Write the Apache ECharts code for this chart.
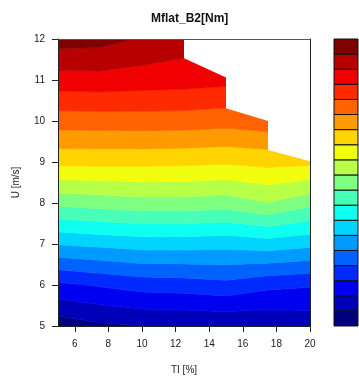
<!DOCTYPE html>
<html>
<head>
<meta charset="utf-8">
<script src="https://cdn.jsdelivr.net/npm/echarts@6/dist/echarts.min.js"></script>
<style>
  html, body { margin: 0; padding: 0; background: #fff; }
  #chart { width: 359px; height: 381px; }
</style>
</head>
<body>
<div id="chart"></div>
<script>
// measurement grid: turbulence intensity columns, wind speed rows (bottom to top)
const tiValues = [5, 7.5, 10, 12.5, 15, 17.5, 20];
const uValues = [5, 6, 7, 8, 9, 10, 11, 12];

// load expressed as contour band position, one row per U, null = no run
const zU5  = [0.43, 0.8, 1.0, 1.05, 1.1, 1.14, 1.35];
const zU6  = [2.79, 3.1, 3.41, 3.49, 3.69, 3.26, 3.1];
const zU7  = [6.06, 6.25, 6.43, 6.43, 6.34, 6.53, 6.27];
const zU8  = [9.27, 9.45, 9.61, 9.62, 9.47, 9.97, 9.31];
const zU9  = [12.28, 12.3, 12.28, 12.24, 12.14, 12.31, 12.26];
const zU10 = [14.48, 14.5, 14.53, 14.51, 14.4, 14.58, null];
const zU11 = [16.56, 16.62, 16.51, 16.43, 16.3, null, null];
const zU12 = [18.45, 18.36, 17.9, 17.5, null, null, null];
const zRows = [zU5, zU6, zU7, zU8, zU9, zU10, zU11, zU12];

const levels = [0, 1, 2, 3, 4, 5, 6, 7, 8, 9, 10, 11, 12, 13, 14, 15, 16, 17, 18, 19];
const xTicks = [6, 8, 10, 12, 14, 16, 18, 20];
const yTicks = [5, 6, 7, 8, 9, 10, 11, 12];

// upper edge of the covered region [TI, U]
const domainTop = [[12.5, 12], [12.5, 11.53], [15, 11.06], [15, 10.31], [17.5, 10.0], [17.5, 9.29], [20, 9.02]];

const bandColors = [
  '#00007F', '#0000B8', '#0000F1', '#002AFF', '#0063FF', '#009BFF', '#00D4FF',
  '#0EFFF1', '#47FFB8', '#7FFF7F', '#B8FF47', '#F1FF0E', '#FFD400', '#FF9B00',
  '#FF6300', '#FF2A00', '#F10000', '#B80000', '#7F0000'
];

// keep the part of a polygon above (or below) a level, interpolating v along edges
function clipBy(poly, t, keepAbove) {
  const out = [];
  for (let i = 0; i < poly.length; i++) {
    const a = poly[i], b = poly[(i + 1) % poly.length];
    const ina = keepAbove ? a.v >= t : a.v <= t;
    const inb = keepAbove ? b.v >= t : b.v <= t;
    if (ina) out.push(a);
    if (ina !== inb) {
      const f = (t - a.v) / (b.v - a.v);
      out.push({ x: a.x + f * (b.x - a.x), y: a.y + f * (b.y - a.y), v: t });
    }
  }
  return out;
}

function renderCell(params, api) {
  const n = tiValues.length;
  const i = params.dataIndex % n, j = Math.floor(params.dataIndex / n);
  if (i === n - 1 || j === uValues.length - 1) return null;
  const idx = [[i, j], [i + 1, j], [i + 1, j + 1], [i, j + 1]];
  const vals = idx.map(([a, b]) => zRows[b][a]);
  const missing = vals.filter(v => v == null).length;
  if (missing > 1) return null;
  if (missing === 1) {
    const m = vals.findIndex(v => v == null);
    vals[m] = vals[(m + 1) % 4] + vals[(m + 3) % 4] - vals[(m + 2) % 4];
  }
  const quad = idx.map(([a, b], k) => {
    const p = api.coord([tiValues[a], uValues[b]]);
    return { x: p[0], y: p[1], v: vals[k] };
  });
  const children = [];
  for (let k = 0; k < bandColors.length; k++) {
    let poly = clipBy(quad, levels[k], true);
    if (poly.length < 3) continue;
    poly = clipBy(poly, levels[k + 1], false);
    if (poly.length < 3) continue;
    children.push({
      type: 'polygon',
      shape: { points: poly.map(p => [p.x, p.y]) },
      style: { fill: bandColors[k], stroke: bandColors[k], lineWidth: 0.6 }
    });
  }
  return { type: 'group', children };
}

function renderMask(params, api) {
  const pts = domainTop.map(p => api.coord(p));
  pts.push(api.coord([tiValues[tiValues.length - 1], uValues[uValues.length - 1]]));
  return { type: 'polygon', shape: { points: pts }, style: { fill: '#fff' } };
}

function renderKey(params, api) {
  const k = params.dataIndex;
  const p0 = api.coord([0, levels[k]]);
  const p1 = api.coord([1, levels[k + 1]]);
  return {
    type: 'rect',
    shape: { x: p0[0], y: p1[1], width: p1[0] - p0[0], height: p0[1] - p1[1] },
    style: { fill: bandColors[k], stroke: '#111', lineWidth: 1 }
  };
}

const chart = echarts.init(document.getElementById('chart'));
const ink = '#222';

chart.setOption({
  animation: false,
  textStyle: { fontFamily: 'Liberation Sans' },
  title: {
    text: 'Mflat_B2[Nm]',
    left: 146,
    top: 8,
    textStyle: { fontSize: 12, fontWeight: 'bold', color: '#111', fontFamily: 'Liberation Sans' }
  },
  grid: [
    { left: 58, top: 39, width: 252, height: 287 },
    { left: 334, top: 39, width: 24, height: 287 }
  ],
  xAxis: [
    {
      type: 'value', min: 5, max: 20, z: 5,
      axisLine: { show: true, lineStyle: { color: ink } },
      axisTick: { show: true, customValues: xTicks, length: 6, lineStyle: { color: ink } },
      axisLabel: { customValues: xTicks, fontSize: 10, color: ink, margin: 13 },
      splitLine: { show: false },
      name: 'TI [%]', nameLocation: 'middle', nameGap: 39,
      nameTextStyle: { fontSize: 10, color: ink }
    },
    { gridIndex: 1, type: 'value', min: 0, max: 1, show: false },
    {
      type: 'value', min: 5, max: 20, position: 'top', z: 5,
      axisLine: { show: true, lineStyle: { color: '#555' } },
      axisTick: { show: false }, axisLabel: { show: false }, splitLine: { show: false }
    }
  ],
  yAxis: [
    {
      type: 'value', min: 5, max: 12, interval: 1, z: 5,
      axisLine: { show: true, lineStyle: { color: ink } },
      axisTick: { show: true, customValues: yTicks, length: 6, lineStyle: { color: ink } },
      axisLabel: { customValues: yTicks, fontSize: 10, color: ink, margin: 13 },
      splitLine: { show: false },
      name: 'U [m/s]', nameLocation: 'middle', nameGap: 37, nameRotate: 90,
      nameTextStyle: { fontSize: 10, color: ink }
    },
    { gridIndex: 1, type: 'value', min: 0, max: 19, show: false },
    {
      type: 'value', min: 5, max: 12, position: 'right', z: 5,
      axisLine: { show: true, lineStyle: { color: ink } },
      axisTick: { show: false }, axisLabel: { show: false }, splitLine: { show: false }
    }
  ],
  series: [
    {
      type: 'custom',
      clip: true,
      z: 1,
      renderItem: renderCell,
      data: uValues.flatMap(u => tiValues.map(t => [t, u]))
    },
    {
      type: 'custom',
      clip: true,
      z: 2,
      renderItem: renderMask,
      data: [domainTop[0]]
    },
    {
      type: 'custom',
      xAxisIndex: 1,
      yAxisIndex: 1,
      renderItem: renderKey,
      data: levels.slice(0, -1).map(l => [0.5, l + 0.5])
    }
  ]
});
</script>
</body>
</html>
